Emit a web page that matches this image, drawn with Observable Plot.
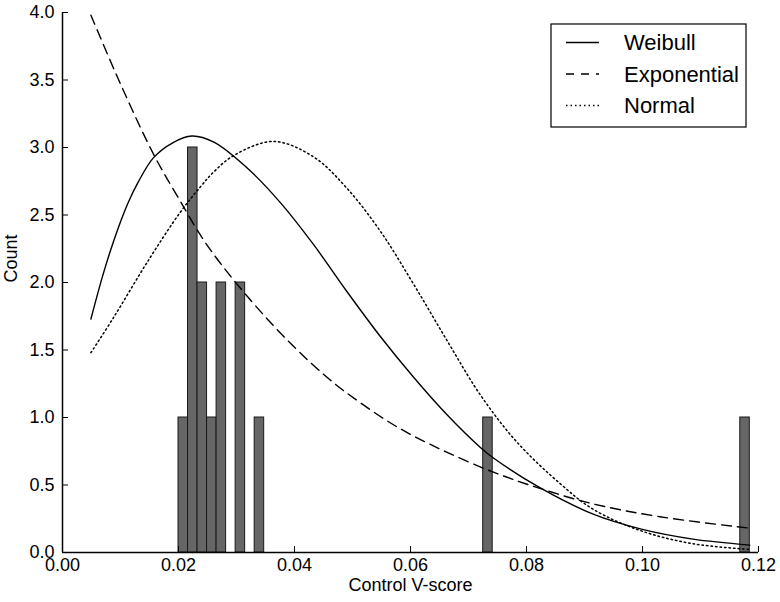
<!DOCTYPE html>
<html>
<head>
<meta charset="utf-8">
<script src="https://cdn.jsdelivr.net/npm/d3@7"></script>
<script src="https://cdn.jsdelivr.net/npm/@observablehq/plot@0.6"></script>
<style>
  body { margin: 0; background: white; }
  #chart { position: relative; width: 780px; height: 602px; }
</style>
</head>
<body>
<div id="chart"></div>
<script>
// Histogram bins (left edge, count), constant bin width
const binWidth = 0.0016417;
const binStarts = [0.02000, 0.021642, 0.023283, 0.024925, 0.026567, 0.029850, 0.033133, 0.072533, 0.116858];
const binCounts = [1, 3, 2, 1, 2, 2, 1, 1, 1];

// Fitted curves
const weibullX = [0.0049, 0.007, 0.00884, 0.0112, 0.013, 0.0157, 0.019, 0.0223, 0.0261, 0.0318, 0.0376, 0.0433, 0.0490, 0.0548, 0.0605, 0.0663, 0.0720, 0.0743, 0.0823, 0.0915, 0.0998, 0.1087, 0.1185];
const weibullY = [1.73, 2.06, 2.31, 2.58, 2.74, 2.925, 3.035, 3.085, 3.04, 2.85, 2.59, 2.28, 1.935, 1.60, 1.30, 1.02, 0.78, 0.70, 0.48, 0.284, 0.173, 0.099, 0.055];

const expX = [0.0049, 0.010, 0.0157, 0.0198, 0.0252, 0.0353, 0.045, 0.051, 0.0577, 0.0654, 0.0743, 0.0823, 0.0915, 0.103, 0.1185];
const expY = [3.98, 3.47, 2.95, 2.64, 2.26, 1.73, 1.32, 1.12, 0.93, 0.76, 0.595, 0.475, 0.36, 0.265, 0.18];

const normX = [0.0049, 0.0088, 0.0146, 0.0203, 0.0238, 0.0261, 0.0295, 0.0364, 0.0433, 0.049, 0.0548, 0.0605, 0.0663, 0.072, 0.0783, 0.0858, 0.0915, 0.0998, 0.1087, 0.1185];
const normY = [1.48, 1.74, 2.15, 2.52, 2.71, 2.82, 2.94, 3.045, 2.93, 2.70, 2.38, 1.99, 1.57, 1.17, 0.82, 0.51, 0.32, 0.16, 0.065, 0.023];

const xTicks = [0, 0.02, 0.04, 0.06, 0.08, 0.10, 0.12];
const yTicks = [0, 0.5, 1.0, 1.5, 2.0, 2.5, 3.0, 3.5, 4.0];
const seriesNames = ["Weibull", "Exponential", "Normal"];
const xLabel = "Control V-score";
const yLabel = "Count";

const bins = binStarts.map((s, i) => ({x1: s, x2: s + binWidth, y: binCounts[i]}));
const pts = (xs, ys) => xs.map((x, i) => ({x, y: ys[i]}));

const W = 780, H = 602, mL = 62, mR = 22, mT = 12, mB = 50;
const font = "'Liberation Sans', Arial, Helvetica, sans-serif";

const svg = Plot.plot({
  width: W, height: H,
  marginLeft: mL, marginRight: mR, marginTop: mT, marginBottom: mB,
  style: {fontFamily: font, fontSize: "18px", background: "white", color: "black"},
  x: {domain: [0, 0.12]},
  y: {domain: [0, 4]},
  marks: [
    Plot.rect(bins, {x1: "x1", x2: "x2", y1: 0, y2: "y", fill: "#666666", stroke: "#1a1a1a", strokeWidth: 1}),
    Plot.line(pts(weibullX, weibullY), {x: "x", y: "y", curve: "catmull-rom", stroke: "black", strokeWidth: 1.4}),
    Plot.line(pts(expX, expY), {x: "x", y: "y", curve: "catmull-rom", stroke: "black", strokeWidth: 1.4, strokeDasharray: "10,6"}),
    Plot.line(pts(normX, normY), {x: "x", y: "y", curve: "catmull-rom", stroke: "black", strokeWidth: 1.5, strokeDasharray: "1.5,3"}),
    Plot.ruleX([0], {stroke: "black", strokeWidth: 1.5}),
    Plot.ruleY([0], {stroke: "black", strokeWidth: 1.5}),
    Plot.tickX(xTicks, {x: d => d, insetTop: H - mT - mB - 6, stroke: "black"}),
    Plot.tickY(yTicks, {y: d => d, insetRight: W - mL - mR - 6, stroke: "black"}),
    Plot.axisX({ticks: xTicks, tickFormat: d3.format(".2f"), tickSize: 0, tickPadding: 6, fontSize: 18, label: null}),
    Plot.axisY({ticks: yTicks, tickFormat: d3.format(".1f"), tickSize: 0, tickPadding: 8, fontSize: 18, label: null}),
    Plot.text([xLabel], {text: d => d, frameAnchor: "bottom", dy: 38, fontSize: 18}),
    Plot.text([yLabel], {text: d => d, frameAnchor: "left", dx: -51, rotate: -90, fontSize: 18})
  ]
});

// Legend inside the plot, upper right
const g = d3.select(svg).append("g")
  .attr("font-family", font).attr("font-size", 22).attr("text-anchor", "start");
g.append("rect").attr("x", 551).attr("y", 24).attr("width", 195).attr("height", 103)
  .attr("fill", "white").attr("stroke", "black").attr("stroke-width", 1.2);
const dashes = [null, "8,7", "1.5,3"];
seriesNames.forEach((name, i) => {
  const cy = 42.5 + i * 31.5;
  g.append("line").attr("x1", 566).attr("x2", 599).attr("y1", cy).attr("y2", cy)
    .attr("stroke", "black").attr("stroke-width", 1.5)
    .attr("stroke-dasharray", dashes[i]);
  g.append("text").attr("x", 624).attr("y", cy).attr("dy", "0.36em")
    .attr("text-anchor", "start").attr("fill", "black").text(name);
});

document.getElementById("chart").appendChild(svg);
</script>
</body>
</html>
